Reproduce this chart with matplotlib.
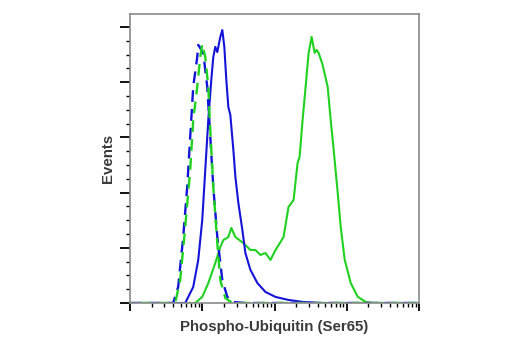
import matplotlib
matplotlib.use("Agg")
import matplotlib.pyplot as plt
from matplotlib.ticker import LogLocator, MultipleLocator, AutoMinorLocator, NullFormatter

# Histogram traces: fluorescence intensity vs. events (% of max)
ctrl_blue_x = [10, 39.6, 46.4, 54.5, 61.9, 68.1, 75.0, 85.2, 88.0, 103.3, 117.3,
               129.2, 142.2, 161.6, 189.6, 222.4, 261.0, 395.6, 1e5]
ctrl_blue_y = [0, 0, 5.8, 23.9, 42.0, 60.1, 78.3, 89.1, 93.5, 90.6, 78.3,
               60.1, 42.0, 23.9, 8.3, 2.2, 0.4, 0, 0]

ctrl_green_x = [10, 42.2, 49.5, 58.1, 68.1, 75.0, 85.2, 93.8, 100, 110.1, 121.2,
                129.2, 142.2, 161.6, 177.8, 208.6, 261.0, 1e5]
ctrl_green_y = [0, 0, 8.3, 27.5, 48.2, 66.3, 78.3, 89.1, 93.8, 89.1, 78.3,
                62.7, 42.0, 21.7, 8.3, 1.8, 0, 0]

untreated_x = [10, 58.1, 75.0, 88.0, 100, 110.1, 121.2, 133.4, 142.2, 151.6, 161.6,
               177.8, 189.6, 202.1, 215.4, 229.7, 244.9, 269.6, 287.4, 316.2, 359.4,
               395.6, 464.2, 580.7, 749.9, 1032.5, 1564, 2448, 4356, 1e5]
untreated_y = [0, 0, 5.8, 15.6, 30.1, 48.2, 66.3, 80.8, 89.1, 92.8, 90.9,
               96.4, 98.9, 92.8, 80.8, 71.0, 68.1, 55.4, 45.7, 36.2, 26.4,
               18.1, 12.0, 7.2, 4.0, 2.2, 1.1, 0.4, 0, 0]

treated_x = [10, 79.9, 100, 121.2, 151.6, 177.8, 195.7, 229.7, 252.8, 287.4, 371.1,
             464.2, 544.6, 639.0, 749.9, 879.9, 1032.5, 1211.5, 1333.5, 1564, 1836,
             2086, 2224, 2448, 2696, 2967, 3265, 3594, 3831, 4084, 4642, 5446,
             5995, 6598, 7499, 8254, 9381, 11365, 14222, 18360, 22970, 1e5]
treated_y = [0, 0, 2.2, 7.2, 14.5, 20.3, 22.8, 23.9, 27.2, 23.9, 21.7,
             19.2, 19.2, 17.4, 18.1, 15.6, 19.2, 22.1, 23.9, 34.8, 37.3,
             50.7, 52.9, 66.3, 78.3, 90.6, 96.4, 90.6, 91.7, 90.6, 86.2, 78.3,
             66.3, 55.4, 39.9, 27.5, 15.6, 7.2, 2.2, 0.4, 0, 0]

blue = "#1414d8"
green = "#1fd21f"

fig = plt.figure(figsize=(5.2, 3.5), dpi=100)
ax = fig.add_axes([130 / 520, 1 - 303 / 350, 289 / 520, 289 / 350])

ax.plot(treated_x, treated_y, color=green, lw=1.5)
ax.plot(untreated_x, untreated_y, color=blue, lw=1.5)
ax.plot(ctrl_blue_x, ctrl_blue_y, color=blue, lw=1.7, linestyle=(0, (5, 3)))
ax.plot(ctrl_green_x, ctrl_green_y, color=green, lw=1.7, linestyle=(4, (5, 3)))

ax.set_xscale("log")
ax.set_xlim(10, 1e5)
ax.set_ylim(0, 104.7)

ax.xaxis.set_major_locator(LogLocator(base=10, numticks=10))
ax.xaxis.set_minor_locator(LogLocator(base=10, subs=range(2, 10), numticks=40))
ax.xaxis.set_major_formatter(NullFormatter())
ax.xaxis.set_minor_formatter(NullFormatter())
ax.yaxis.set_major_locator(MultipleLocator(20))
ax.yaxis.set_minor_locator(AutoMinorLocator(4))
ax.yaxis.set_major_formatter(NullFormatter())

ax.tick_params(which="major", direction="out", length=6, width=1.3, color="black")
ax.tick_params(which="minor", direction="out", length=3, width=1.0, color="black")
ax.tick_params(axis="y", which="major", length=7)

for s in ax.spines.values():
    s.set_color("#8a8a8a")
    s.set_linewidth(1.2)

ax.set_xlabel("Phospho-Ubiquitin (Ser65)", fontsize=10.8, fontweight="bold",
              family="Liberation Sans", color="#3a3a3a", labelpad=3)
ax.set_ylabel("Events", fontsize=10.8, fontweight="bold",
              family="Liberation Sans", color="#3a3a3a", labelpad=0)

fig.savefig("out.png", dpi=100)
